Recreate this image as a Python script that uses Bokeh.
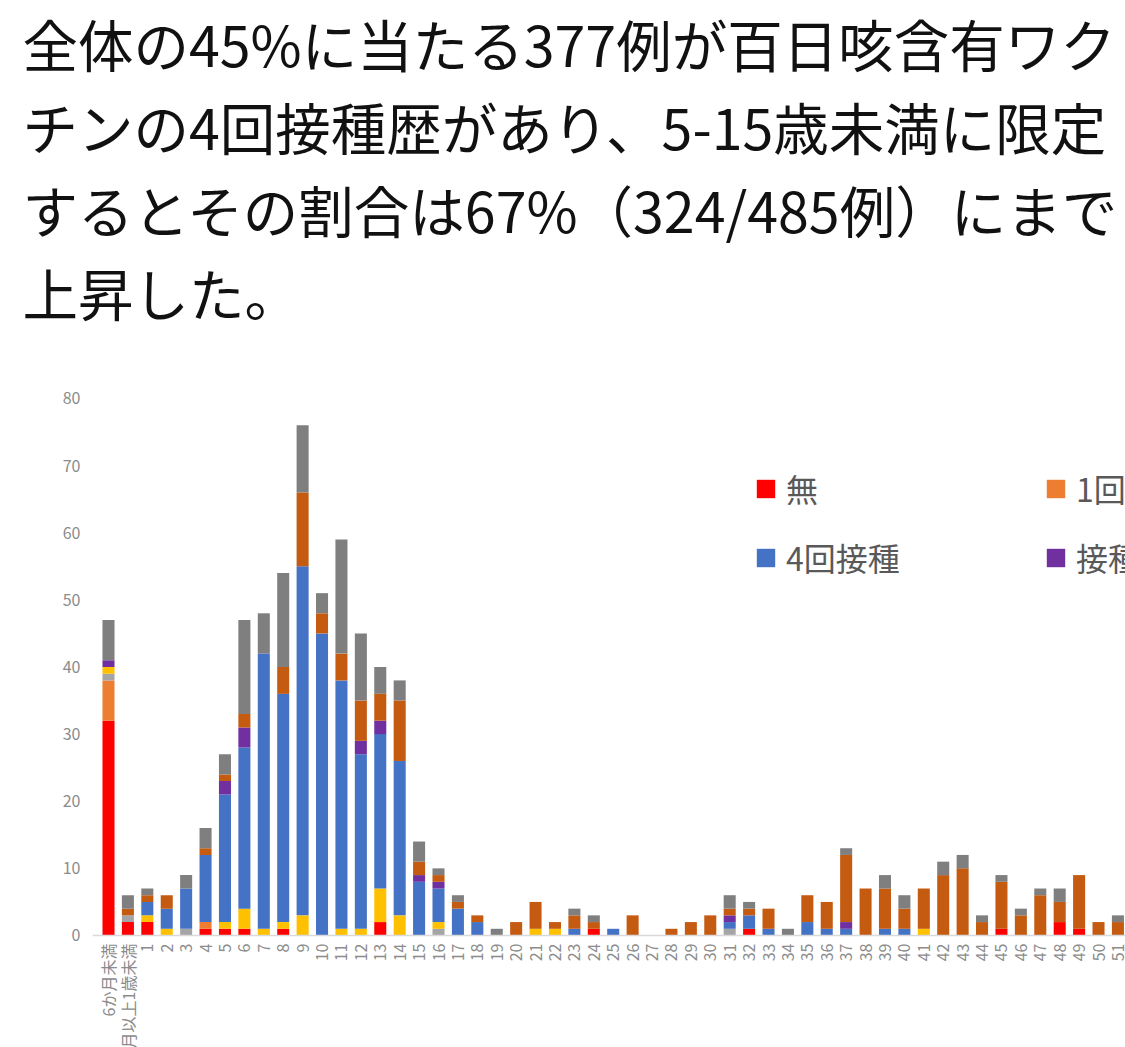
import math
from bokeh.plotting import figure
from bokeh.models import ColumnDataSource, Range1d, FixedTicker, Span, Title, Legend, LegendItem
from bokeh.core.properties import value
from bokeh.embed import file_html
from bokeh.resources import INLINE

title_lines = [
    "全体の45%に当たる377例が百日咳含有ワク",
    "チンの4回接種歴があり、5-15歳未満に限定",
    "するとその割合は67%（324/485例）にまで",
    "上昇した。",
]

categories = ["6か月未満", "6か月以上1歳未満"] + [str(n) for n in range(1, 52)]

series_names = ["無", "1回", "2回", "3回", "4回接種", "接種歴あり（回数不明）", "接種歴不明", "記載なし"]
series_colors = ["#FF0000", "#ED7D31", "#A5A5A5", "#FFC000", "#4472C4", "#7030A0", "#C55A11", "#7F7F7F"]

#            <6m 6m-1y 1  2  3  4   5   6   7   8   9  10  11  12  13  14 15 16 17 18 19 20 21 22 23 24 25 26 27 28 29 30 31 32 33 34 35 36 37 38 39 40 41 42 43 44 45 46 47 48 49 50 51
none_     = [32, 2,    2, 0, 0, 1,  1,  1,  0,  1,  0,  0,  0,  0,  2,  0, 0, 0, 0, 0, 0, 0, 0, 0, 0, 1, 0, 0, 0, 0, 0, 0, 0, 1, 0, 0, 0, 0, 0, 0, 0, 0, 0, 0, 0, 0, 1, 0, 0, 2, 1, 0, 0]
dose1     = [6,  0,    0, 0, 0, 1,  0,  0,  0,  0,  0,  0,  0,  0,  0,  0, 0, 0, 0, 0, 0, 0, 0, 0, 0, 0, 0, 0, 0, 0, 0, 0, 0, 0, 0, 0, 0, 0, 0, 0, 0, 0, 0, 0, 0, 0, 0, 0, 0, 0, 0, 0, 0]
dose2     = [1,  1,    0, 0, 1, 0,  0,  0,  0,  0,  0,  0,  0,  0,  0,  0, 0, 1, 0, 0, 0, 0, 0, 0, 0, 0, 0, 0, 0, 0, 0, 0, 1, 0, 0, 0, 0, 0, 0, 0, 0, 0, 0, 0, 0, 0, 0, 0, 0, 0, 0, 0, 0]
dose3     = [1,  0,    1, 1, 0, 0,  1,  3,  1,  1,  3,  0,  1,  1,  5,  3, 0, 1, 0, 0, 0, 0, 1, 1, 0, 0, 0, 0, 0, 0, 0, 0, 0, 0, 0, 0, 0, 0, 0, 0, 0, 0, 1, 0, 0, 0, 0, 0, 0, 0, 0, 0, 0]
dose4     = [0,  0,    2, 3, 6, 10, 19, 24, 41, 34, 52, 45, 37, 26, 23, 23, 8, 5, 4, 2, 0, 0, 0, 0, 1, 0, 1, 0, 0, 0, 0, 0, 1, 2, 1, 0, 2, 1, 1, 0, 1, 1, 0, 0, 0, 0, 0, 0, 0, 0, 0, 0, 0]
dose_unk  = [1,  0,    0, 0, 0, 0,  2,  3,  0,  0,  0,  0,  0,  2,  2,  0, 1, 1, 0, 0, 0, 0, 0, 0, 0, 0, 0, 0, 0, 0, 0, 0, 1, 0, 0, 0, 0, 0, 1, 0, 0, 0, 0, 0, 0, 0, 0, 0, 0, 0, 0, 0, 0]
hist_unk  = [0,  1,    1, 2, 0, 1,  1,  2,  0,  4, 11,  3,  4,  6,  4,  9, 2, 1, 1, 1, 0, 2, 4, 1, 2, 1, 0, 3, 0, 1, 2, 3, 1, 1, 3, 0, 4, 4,10, 7, 6, 3, 6, 9,10, 2, 7, 3, 6, 3, 8, 2, 2]
no_record = [6,  2,    1, 0, 2, 3,  3, 14,  6, 14, 10,  3, 17, 10,  4,  3, 3, 1, 1, 0, 1, 0, 0, 0, 1, 1, 0, 0, 0, 0, 0, 0, 2, 1, 0, 1, 0, 0, 1, 0, 2, 2, 0, 2, 2, 1, 1, 1, 1, 2, 0, 0, 1]

y_ticks = [0, 10, 20, 30, 40, 50, 60, 70, 80]

keys = ["s0", "s1", "s2", "s3", "s4", "s5", "s6", "s7"]
data = dict(x=list(range(len(categories))), label=categories)
for k, vals in zip(keys, [none_, dose1, dose2, dose3, dose4, dose_unk, hist_unk, no_record]):
    data[k] = vals
source = ColumnDataSource(data)

FONT = "Noto Sans CJK JP"
Y_TOP = 89.83

p = figure(width=1125, height=1047, output_backend="svg", toolbar_location=None,
           title=None,
           x_range=Range1d(-0.824, 52.39), y_range=Range1d(-16.685, Y_TOP),
           min_border_left=92, min_border_right=0, min_border_bottom=0, min_border_top=0)
p.outline_line_color = None
p.background_fill_color = "white"
p.border_fill_color = "white"
p.xaxis.visible = False
p.xgrid.visible = False
p.ygrid.visible = False

ya = p.yaxis[0]
ya.ticker = FixedTicker(ticks=y_ticks)
ya.axis_line_color = None
ya.major_tick_line_color = None
ya.minor_tick_line_color = None
ya.major_tick_out = 0
ya.major_tick_in = 0
ya.major_label_standoff = 12
ya.major_label_text_font = FONT
ya.major_label_text_font_size = "16px"
ya.major_label_text_color = "#8C8C8C"

renderers = p.vbar_stack(keys, x="x", width=0.62, color=series_colors, source=source, line_width=0)

p.add_layout(Span(location=0, dimension="width", line_color="#D9D9D9", line_width=1.5))

p.text(x="x", y=0, text="label", source=source, angle=math.pi / 2, y_offset=8,
       text_align="right", text_baseline="middle", text_font=value(FONT),
       text_font_size="16px", text_color="#8C8C8C")

legend_idx = [0, 1, 4, 5]
legend = Legend(items=[LegendItem(label=series_names[i], renderers=[renderers[i]]) for i in legend_idx],
                orientation="horizontal", ncols=2, location=(662, 467),
                padding=0, margin=0, spacing=23, glyph_width=23, glyph_height=23,
                label_standoff=9, label_width=235, label_text_font=FONT,
                label_text_font_size="32px", label_text_color="#595959",
                border_line_color=None, background_fill_alpha=0)
p.add_layout(legend)

for line in reversed(title_lines):
    p.add_layout(Title(text=line, align="left", offset=-70, text_font=FONT,
                       text_font_size="55.5px", text_font_style="normal",
                       text_color="#111111", standoff=1), "above")

open("out.html", "w").write(file_html(p, INLINE))
